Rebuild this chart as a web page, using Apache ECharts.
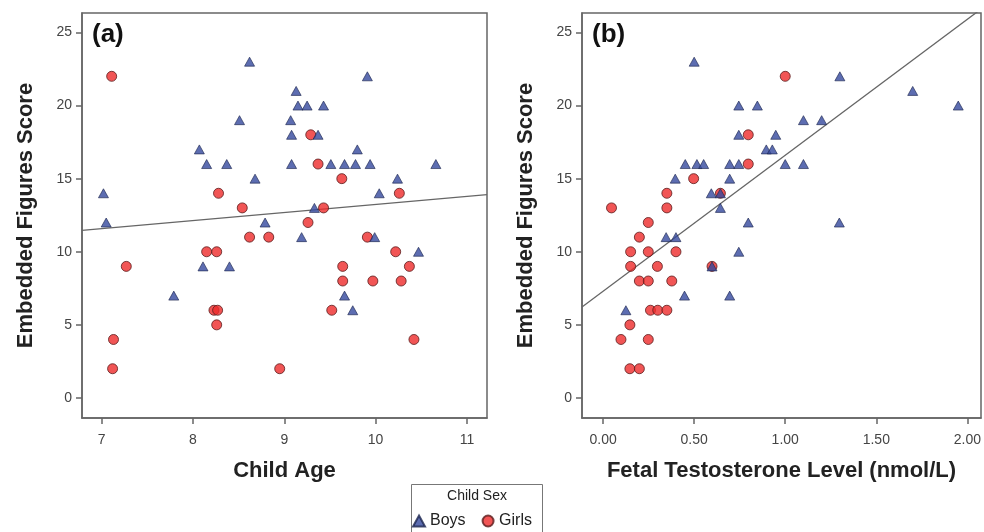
<!DOCTYPE html>
<html><head><meta charset="utf-8">
<script src="https://cdn.jsdelivr.net/npm/echarts@6/dist/echarts.min.js"></script>
<style>html,body{margin:0;padding:0;background:#fff}#c{width:984px;height:532px}</style>
</head><body><div id="c"></div>
<script>
// ---- data ----
const ageTicks = [7, 8, 9, 10, 11];
const ftTicks = [0, 0.5, 1, 1.5, 2];
const scoreTicks = [0, 5, 10, 15, 20, 25];

// Panel (a): [child age, embedded figures score]
const boysAge = [
  [8.62,23],[9.91,22],[9.13,21],[9.15,20],[9.25,20],[9.43,20],[8.51,19],[9.07,19],
  [9.08,18],[9.37,18],[8.07,17],[9.80,17],[8.15,16],[8.37,16],[9.08,16],[9.51,16],
  [9.66,16],[9.78,16],[9.94,16],[10.66,16],[8.68,15],[10.24,15],[7.02,14],[10.04,14],
  [9.33,13],[7.05,12],[8.79,12],[9.19,11],[9.99,11],[10.47,10],[8.11,9],[8.40,9],
  [7.79,7],[9.66,7],[9.75,6]
];
const girlsAge = [
  [7.11,22],[9.29,18],[9.37,16],[9.63,15],[8.28,14],[10.26,14],[8.54,13],[9.43,13],
  [9.26,12],[8.62,11],[8.83,11],[9.91,11],[8.15,10],[8.26,10],[10.22,10],[7.27,9],
  [9.64,9],[10.37,9],[9.64,8],[9.97,8],[10.28,8],[8.23,6],[8.27,6],[9.52,6],[8.26,5],
  [7.13,4],[10.42,4],[7.12,2],[8.95,2]
];
// Panel (b): [fetal testosterone (nmol/L), embedded figures score]
const boysFT = [
  [0.50,23],[1.30,22],[1.70,21],[0.745,20],[0.847,20],[1.95,20],[1.10,19],[1.20,19],
  [0.745,18],[0.948,18],[0.896,17],[0.929,17],[0.451,16],[0.515,16],[0.552,16],[0.695,16],
  [0.745,16],[1.00,16],[1.10,16],[0.396,15],[0.695,15],[0.594,14],[0.644,14],[0.644,13],
  [0.797,12],[1.297,12],[0.346,11],[0.40,11],[0.745,10],[0.598,9],[0.447,7],[0.695,7],
  [0.125,6]
];
const girlsFT = [
  [1.00,22],[0.797,18],[0.797,16],[0.497,15],[0.35,14],[0.644,14],[0.046,13],[0.35,13],
  [0.248,12],[0.199,11],[0.151,10],[0.248,10],[0.40,10],[0.151,9],[0.298,9],[0.598,9],
  [0.199,8],[0.248,8],[0.377,8],[0.26,6],[0.30,6],[0.35,6],[0.147,5],[0.098,4],
  [0.248,4],[0.147,2],[0.199,2]
];
// fit lines: [intercept, slope]
const fitAge = [7.73, 0.55];
const fitFT = [7.30, 9.30];

// ---- chart ----
const ageRange = [6.785, 11.22];
const ftRange = [-0.116, 2.075];
const scoreRange = [-1.37, 26.33];
const frame = '#666';
const font = 'Liberation Sans, Arial, sans-serif';

function fitLine(fit, r) {
  return [[r[0], fit[0] + fit[1] * r[0]], [r[1], fit[0] + fit[1] * r[1]]];
}
function xAx(gi, r, ticks, name, fmt) {
  return {
    type: 'value', gridIndex: gi, min: r[0], max: r[1],
    axisLine: { show: true, onZero: false, lineStyle: { color: frame, width: 1.5 } },
    axisTick: { show: true, customValues: ticks, length: 6, lineStyle: { color: frame, width: 1.5 } },
    axisLabel: { customValues: ticks, formatter: fmt, color: '#444', fontSize: 14, margin: 15, fontFamily: font },
    splitLine: { show: false },
    name: name, nameLocation: 'middle', nameGap: 42,
    nameTextStyle: { fontSize: 22, fontWeight: 'bold', color: '#222', fontFamily: font }
  };
}
function yAx(gi) {
  return {
    type: 'value', gridIndex: gi, min: scoreRange[0], max: scoreRange[1],
    axisLine: { show: true, onZero: false, lineStyle: { color: frame, width: 1.5 } },
    axisTick: { show: true, customValues: scoreTicks, length: 6, lineStyle: { color: frame, width: 1.5 } },
    axisLabel: { customValues: scoreTicks, color: '#444', fontSize: 14, margin: 10, fontFamily: font },
    splitLine: { show: false },
    name: 'Embedded Figures Score', nameLocation: 'middle', nameGap: 45, nameRotate: 90,
    nameTextStyle: { fontSize: 22, fontWeight: 'bold', color: '#222', fontFamily: font }
  };
}
const boyStyle = { color: '#34499e', borderColor: '#1c254f', borderWidth: 0.8 };
const girlStyle = { color: '#ee2a2a', borderColor: '#5a1d1d', borderWidth: 1 };
function girls(d, gi) {
  return { name: 'Girls', type: 'scatter', xAxisIndex: gi, yAxisIndex: gi, data: d,
    symbol: 'circle', symbolSize: 10, itemStyle: girlStyle, z: 3 };
}
function boys(d, gi) {
  return { name: 'Boys', type: 'scatter', xAxisIndex: gi, yAxisIndex: gi, data: d,
    symbol: 'triangle', symbolSize: [10, 9], itemStyle: boyStyle, z: 4 };
}
function line(fit, r, gi) {
  return { type: 'line', xAxisIndex: gi, yAxisIndex: gi, data: fitLine(fit, r),
    symbol: 'none', silent: true, clip: true, lineStyle: { color: '#666', width: 1.3 }, z: 2 };
}

const chart = echarts.init(document.getElementById('c'), null, { renderer: 'canvas' });
chart.setOption({
  backgroundColor: '#fff',
  animation: false,
  textStyle: { fontFamily: font },
  grid: [
    { left: 82, top: 13, width: 405, height: 405, show: true, borderColor: frame, borderWidth: 1.5 },
    { left: 582, top: 13, width: 399, height: 405, show: true, borderColor: frame, borderWidth: 1.5 }
  ],
  xAxis: [
    xAx(0, ageRange, ageTicks, 'Child Age', v => String(v)),
    xAx(1, ftRange, ftTicks, 'Fetal Testosterone Level (nmol/L)', v => Number(v).toFixed(2))
  ],
  yAxis: [yAx(0), yAx(1)],
  legend: {
    data: ['Boys', 'Girls'], left: 412, top: 513, itemGap: 16, itemWidth: 12, itemHeight: 11,
    padding: 0, textStyle: { fontSize: 16, color: '#222', fontFamily: font }
  },
  graphic: [
    { type: 'rect', shape: { x: 411.5, y: 484.5, width: 131, height: 60 },
      style: { fill: 'none', stroke: '#777', lineWidth: 1 } },
    { type: 'text', x: 477, y: 496, style: { text: 'Child Sex', fill: '#222', font: '14px ' + font,
      textAlign: 'center', textVerticalAlign: 'middle' } },
    { type: 'text', x: 92, y: 35, style: { text: '(a)', fill: '#111', font: 'bold 26px ' + font,
      textVerticalAlign: 'middle' } },
    { type: 'text', x: 592, y: 35, style: { text: '(b)', fill: '#111', font: 'bold 26px ' + font,
      textVerticalAlign: 'middle' } }
  ],
  series: [
    line(fitAge, ageRange, 0),
    line(fitFT, ftRange, 1),
    girls(girlsAge, 0), boys(boysAge, 0),
    girls(girlsFT, 1), boys(boysFT, 1)
  ]
});
</script>
</body></html>
